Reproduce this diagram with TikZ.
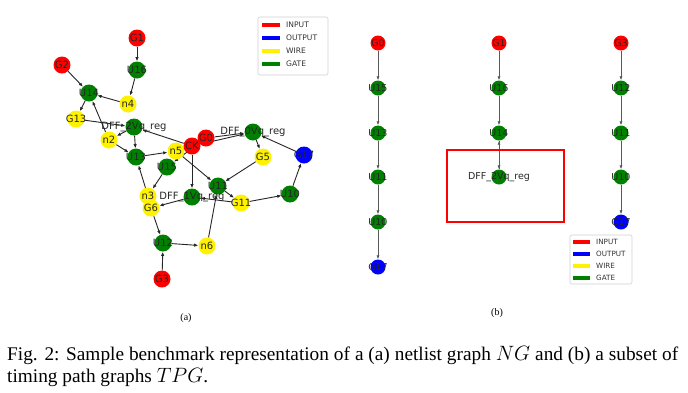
\documentclass[tikz,border=0pt]{standalone}
\usepackage{fontspec}
\setmainfont{Liberation Serif}
\newfontfamily\djv{DejaVu Sans}
\usetikzlibrary{arrows.meta}
\pgfdeclarelayer{bglayer}
\pgfdeclarelayer{edgelayer}
\pgfsetlayers{bglayer,edgelayer,main}
\definecolor{nxgreen}{RGB}{0,128,0}
\tikzset{
  nd/.style={circle, inner sep=0pt, minimum size=17pt, draw=none},
  ndb/.style={circle, inner sep=0pt, minimum size=15pt, draw=none},
  inp/.style={fill=red},
  outp/.style={fill=blue},
  wire/.style={fill=yellow},
  gate/.style={fill=nxgreen},
  lbl/.style={font=\djv\fontsize{10}{10}\selectfont, inner sep=0pt, text=black!85},
  lblb/.style={font=\djv\fontsize{9.5}{9.5}\selectfont, inner sep=0pt, text=black!85},
  edge/.style={draw=black!85, line width=0.9pt, -{Latex[length=4.2pt,width=3.4pt]}},
  edgeb/.style={draw=black!65, line width=0.9pt, -{Latex[length=4pt,width=3.2pt]}},
  legframe/.style={draw=black!18, line width=0.6pt, rounded corners=2pt, fill=white},
  legtext/.style={font=\djv\fontsize{7.6}{7.6}\selectfont, anchor=west, inner sep=0pt, text=black!80},
  legtextb/.style={font=\djv\fontsize{7.2}{7.2}\selectfont, anchor=west, inner sep=0pt, text=black!80},
  captext/.style={font=\fontsize{19.3}{22}\selectfont, anchor=base west, inner sep=0pt},
  subtext/.style={font=\fontsize{10}{12}\selectfont, inner sep=0pt}
}
\begin{document}
\begin{tikzpicture}[x=1pt,y=-1pt]
\begin{pgfonlayer}{bglayer}
\fill[white] (0,0) rectangle (688,392);
\end{pgfonlayer}
\useasboundingbox (0,0) rectangle (688,392);

% ---------------- (a) netlist graph ----------------
\node[nd,inp]  (G1)  at (137,38)  {};
\node[nd,inp]  (G2)  at (62,65)   {};
\node[nd,gate] (U16) at (137,70)  {};
\node[nd,gate] (U14) at (89,93)   {};
\node[nd,wire] (n4)  at (128,104) {};
\node[nd,wire] (G13) at (76,119)  {};
\node[nd,gate] (D2)  at (134,127) {};
\node[nd,wire] (n2)  at (109,140) {};
\node[nd,gate] (U13) at (136,157) {};
\node[nd,wire] (n5)  at (176,151) {};
\node[nd,inp]  (CK)  at (192,146) {};
\node[nd,inp]  (G0)  at (206,138) {};
\node[nd,gate] (D0)  at (253,132) {};
\node[nd,wire] (G5)  at (263,157) {};
\node[nd,outp] (G17) at (304,155) {};
\node[nd,gate] (U15) at (167,167) {};
\node[nd,gate] (U11) at (218,186) {};
\node[nd,gate] (U10) at (290,194) {};
\node[nd,wire] (n3)  at (148,196) {};
\node[nd,gate] (D1)  at (192,197) {};
\node[nd,wire] (G11) at (241,203) {};
\node[nd,wire] (G6)  at (151,208) {};
\node[nd,gate] (U12) at (163,243) {};
\node[nd,wire] (n6)  at (207,246) {};
\node[nd,inp]  (G3)  at (162,279) {};

\begin{pgfonlayer}{edgelayer}
\draw[edge] (G1) -- (U16);
\draw[edge] (G2) -- (U14);
\draw[edge] (U16) -- (n4);
\draw[edge] (n4) -- (U14);
\draw[edge] (U14) -- (G13);
\draw[edge] (G13) -- (D2);
\draw[edge] (D2) -- (n2);
\draw[edge] (n2) -- (U14);
\draw[edge] (n2) -- (U13);
\draw[edge] (D2) -- (U13);
\draw[edge] (CK) -- (D2);
\draw[edge] (U13) -- (n5);
\draw[edge] (n5) -- (U11);
\draw[edge] (G0) -- (U15);
\draw[edge] (CK) -- (D1);
\draw[edge] (CK) -- (D0);
\draw[edge] (G0) -- (D0);
\draw[edge] (U15) -- (n3);
\draw[edge] (n3) -- (U13);
\draw[edge] (U11) -- (G11);
\draw[edge] (G11) -- (U10);
\draw[edge] (U10) -- (G17);
\draw[edge] (G17) -- (D0);
\draw[edge] (D0) -- (G5);
\draw[edge] (G5) -- (U11);
\draw[edge] (G11) -- (D1);
\draw[edge] (D1) -- (G6);
\draw[edge] (G6) -- (U12);
\draw[edge] (G3) -- (U12);
\draw[edge] (U12) -- (n6);
\draw[edge] (n6) -- (U11);
\end{pgfonlayer}

\node[lbl] (tG1)  at (G1)  {G1};
\node[lbl] (tG2)  at (G2)  {G2};
\node[lbl] (tU16) at (U16) {U16};
\node[lbl] (tU14) at (U14) {U14};
\node[lbl] (tn4)  at (n4)  {n4};
\node[lbl] (tG13) at (G13) {G13};
\node[lbl] (tD2)  at (D2)  {DFF\_2Vq\_reg};
\node[lbl] (tn2)  at (n2)  {n2};
\node[lbl] (tU13) at (U13) {U13};
\node[lbl] (tn5)  at (n5)  {n5};
\node[lbl] (tCK)  at (CK)  {CK};
\node[lbl] (tG0)  at (G0)  {G0};
\node[lbl] (tD0)  at (D0)  {DFF\_0Vq\_reg};
\node[lbl] (tG5)  at (G5)  {G5};
\node[lbl] (tG17) at (G17) {G17};
\node[lbl] (tU15) at (U15) {U15};
\node[lbl] (tU11) at (U11) {U11};
\node[lbl] (tU10) at (U10) {U10};
\node[lbl] (tn3)  at (n3)  {n3};
\node[lbl] (tD1)  at (D1)  {DFF\_1Vq\_reg};
\node[lbl] (tG11) at (G11) {G11};
\node[lbl] (tG6)  at (G6)  {G6};
\node[lbl] (tU12) at (U12) {U12};
\node[lbl] (tn6)  at (n6)  {n6};
\node[lbl] (tG3)  at (G3)  {G3};

% legend (a)
\draw[legframe] (258,17) rectangle (328,75);
\fill[red]     (262,22.6) rectangle (280,27.4);
\fill[blue]    (262,35.6) rectangle (280,40.4);
\fill[yellow]  (262,48.6) rectangle (280,53.4);
\fill[nxgreen] (262,61.6) rectangle (280,66.4);
\node[legtext] (la1) at (286,25) {INPUT};
\node[legtext] (la2) at (286,38) {OUTPUT};
\node[legtext] (la3) at (286,51) {WIRE};
\node[legtext] (la4) at (286,64) {GATE};

% ---------------- (b) timing path graphs ----------------
\node[ndb,inp]  (bG0)  at (378,43)  {};
\node[ndb,gate] (bU15) at (378,88)  {};
\node[ndb,gate] (bU13) at (378,133) {};
\node[ndb,gate] (bU11) at (378,177) {};
\node[ndb,gate] (bU10) at (378,222) {};
\node[ndb,outp] (bG17) at (378,267) {};

\node[ndb,inp]  (cG1)  at (499,43)  {};
\node[ndb,gate] (cU16) at (499,88)  {};
\node[ndb,gate] (cU14) at (499,133) {};
\node[ndb,gate] (cD2)  at (499,177) {};

\node[ndb,inp]  (dG3)  at (621,43)  {};
\node[ndb,gate] (dU12) at (621,88)  {};
\node[ndb,gate] (dU11) at (621,133) {};
\node[ndb,gate] (dU10) at (621,177) {};
\node[ndb,outp] (dG17) at (621,222) {};

\begin{pgfonlayer}{edgelayer}
\draw[edgeb] (bG0) -- (bU15);
\draw[edgeb] (bU15) -- (bU13);
\draw[edgeb] (bU13) -- (bU11);
\draw[edgeb] (bU11) -- (bU10);
\draw[edgeb] (bU10) -- (bG17);
\draw[edgeb] (cG1) -- (cU16);
\draw[edgeb] (cU16) -- (cU14);
\draw[edgeb] (cU14) -- (cD2);
\draw[edgeb] (cD2) -- (cU14);
\draw[edgeb] (dG3) -- (dU12);
\draw[edgeb] (dU12) -- (dU11);
\draw[edgeb] (dU11) -- (dU10);
\draw[edgeb] (dU10) -- (dG17);
\end{pgfonlayer}

\node[lblb] (tbG0)  at (bG0)  {G0};
\node[lblb] (tbU15) at (bU15) {U15};
\node[lblb] (tbU13) at (bU13) {U13};
\node[lblb] (tbU11) at (bU11) {U11};
\node[lblb] (tbU10) at (bU10) {U10};
\node[lblb] (tbG17) at (bG17) {G17};
\node[lblb] (tcG1)  at (cG1)  {G1};
\node[lblb] (tcU16) at (cU16) {U16};
\node[lblb] (tcU14) at (cU14) {U14};
\node[lblb] (tcD2)  at (cD2)  {DFF\_2Vq\_reg};
\node[lblb] (tdG3)  at (dG3)  {G3};
\node[lblb] (tdU12) at (dU12) {U12};
\node[lblb] (tdU11) at (dU11) {U11};
\node[lblb] (tdU10) at (dU10) {U10};
\node[lblb] (tdG17) at (dG17) {G17};

% highlight box
\draw[red, line width=2.2pt] (447,150) rectangle (564,222);

% legend (b)
\draw[legframe] (570,235) rectangle (632,284);
\fill[red]     (573,239.8) rectangle (590,244.2);
\fill[blue]    (573,251.8) rectangle (590,256.2);
\fill[yellow]  (573,263.8) rectangle (590,268.2);
\fill[nxgreen] (573,275.8) rectangle (590,280.2);
\node[legtextb] (lb1) at (596,242) {INPUT};
\node[legtextb] (lb2) at (596,254) {OUTPUT};
\node[legtextb] (lb3) at (596,266) {WIRE};
\node[legtextb] (lb4) at (596,278) {GATE};

% sub-captions and caption
\node[subtext] (suba) at (186,318) {(a)};
\node[subtext] (subb) at (497,313) {(b)};
\node[captext] (cap1) at (7,360) {\makebox[671pt][s]{Fig. 2: Sample benchmark representation of a (a) netlist graph $NG$ and (b) a subset of}};
\node[captext] (cap2) at (7,382) {timing path graphs $TPG$.};
\end{tikzpicture}
\end{document}
